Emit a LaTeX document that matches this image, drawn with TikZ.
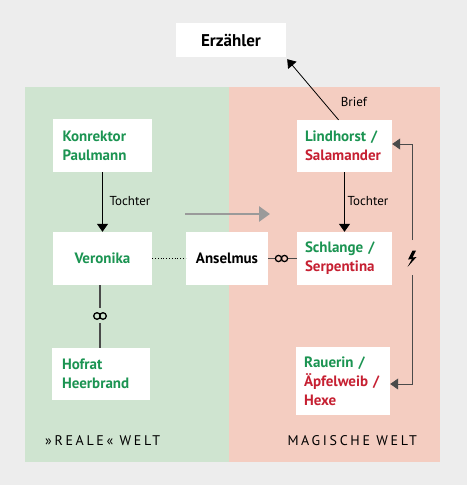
\documentclass[tikz,border=0pt]{standalone}
\usepackage{fontspec}
\setmainfont{PT Sans}
\usetikzlibrary{arrows.meta,calc}
\definecolor{bggray}{HTML}{EDEDED}
\definecolor{bggreen}{HTML}{CFE4D0}
\definecolor{bgred}{HTML}{F4CDC1}
\definecolor{tgreen}{HTML}{1B9452}
\definecolor{tred}{HTML}{C62032}
\definecolor{lgray}{HTML}{9A9A9A}
\definecolor{lineg}{HTML}{4A4A4A}
\begin{document}
\begin{tikzpicture}[x=1pt,y=-1pt,
  box/.style={fill=white, inner sep=0pt, font=\fontsize{15}{19}\selectfont\bfseries},
  lbl/.style={inner sep=0pt, font=\fontsize{13}{14}\selectfont},
  wlabel/.style={inner sep=0pt, font=\fontsize{14}{14}\selectfont\addfontfeatures{LetterSpace=19}},
  arr/.style={draw=black, line width=0.8pt, -{Triangle[width=11pt,length=8pt]}},
  conn/.style={draw=lineg, line width=1.2pt},
  infty/.style={draw=black, line width=1.3pt}
]
\useasboundingbox (0,0) rectangle (467,485);
\fill[bggray] (0,0) rectangle (467,485);
\fill[bggreen] (25,87) rectangle (229,462);
\fill[bgred] (229,87) rectangle (440,462);

% boxes
\node[box, minimum width=110pt, minimum height=34pt, font=\fontsize{17}{19}\selectfont\bfseries] (E) at (231,40) {Erzähler};
\node[box, minimum width=99pt, minimum height=53pt, text width=80pt, align=left] (K) at (102.5,145.5)
  {\color{tgreen}Konrektor\\\color{tgreen}Paulmann};
\node[box, minimum width=99pt, minimum height=53pt, align=center] (V) at (102.5,258.5)
  {\color{tgreen}Veronika};
\node[box, minimum width=98pt, minimum height=52pt, text width=78pt, align=left] (H) at (101,374)
  {\color{tgreen}Hofrat\\\color{tgreen}Heerbrand};
\node[box, minimum width=82pt, minimum height=53pt, align=center] (A) at (227,258.5)
  {Anselmus};
\node[box, minimum width=95pt, minimum height=52pt, text width=79pt, align=left] (L) at (344.5,146)
  {\color{tgreen}Lindhorst /\\\color{tred}Salamander};
\node[box, minimum width=95pt, minimum height=53pt, text width=79pt, align=left] (S) at (344.5,258.5)
  {\color{tgreen}Schlange /\\\color{tred}Serpentina};
\node[box, minimum width=94pt, minimum height=68pt, text width=78pt, align=left] (R) at (343,381)
  {\color{tgreen}Rauerin /\\\color{tred}Äpfelweib /\\\color{tred}Hexe};

% Tochter arrows
\draw[arr] (K.south) -- (V.north);
\node[lbl] (t1) at (130,201) {Tochter};
\draw[arr] (L.south) -- (S.north);
\node[lbl] (t2) at (368,201) {Tochter};

% Brief arrow
\draw[arr] ([xshift=-6pt]L.north) -- ([xshift=1pt,yshift=-2pt]E.south east);
\node[lbl] (br) at (354,102) {Brief};

% gray transition arrow
\coordinate (g1) at (185,214);
\coordinate (g2) at (270,214);
\draw[draw=lgray, line width=2.8pt, -{Triangle[width=15pt,length=11pt]}] (g1) -- (g2);

% dotted Veronika - Anselmus
\draw[black, line width=0.8pt, dotted] (V.east) -- (A.east -| A.west);

% Anselmus - Schlange marriage
\coordinate (m1) at (281.5,258.5);
\draw[conn] (A.east) -- ++(7,0);
\draw[conn] (S.west) -- ++(-9,0);
\draw[infty] ($(m1)+(-3,0)$) circle[radius=3.1];
\draw[infty] ($(m1)+(3,0)$) circle[radius=3.1];

% Veronika - Hofrat marriage
\coordinate (m2) at (100,316);
\draw[conn] (V.south -| m2) -- (100,308);
\draw[conn] (100,323) -- (H.north -| m2);
\draw[infty] ($(m2)+(-3,0)$) circle[radius=3.3];
\draw[infty] ($(m2)+(3,0)$) circle[radius=3.3];

% right side lightning bracket
\coordinate (z1) at (412,240);
\coordinate (z2) at (412,275);
\draw[arr, draw=lineg] (z1) |- ([yshift=2pt]L.east);
\draw[arr, draw=lineg] (z2) |- ([yshift=-3pt]R.east);
\fill[black] (416,250.5) -- (412.5,250.5) -- (408,259.5) -- (412,259) -- (407.5,267) -- (416.5,257) -- (412.5,257.5) -- cycle;

% world labels
\node[wlabel, anchor=base west] (rw) at (45,445) {»REALE« WELT};
\node[wlabel, anchor=base east] (mw) at (417,445) {MAGISCHE WELT};
\end{tikzpicture}
\end{document}
